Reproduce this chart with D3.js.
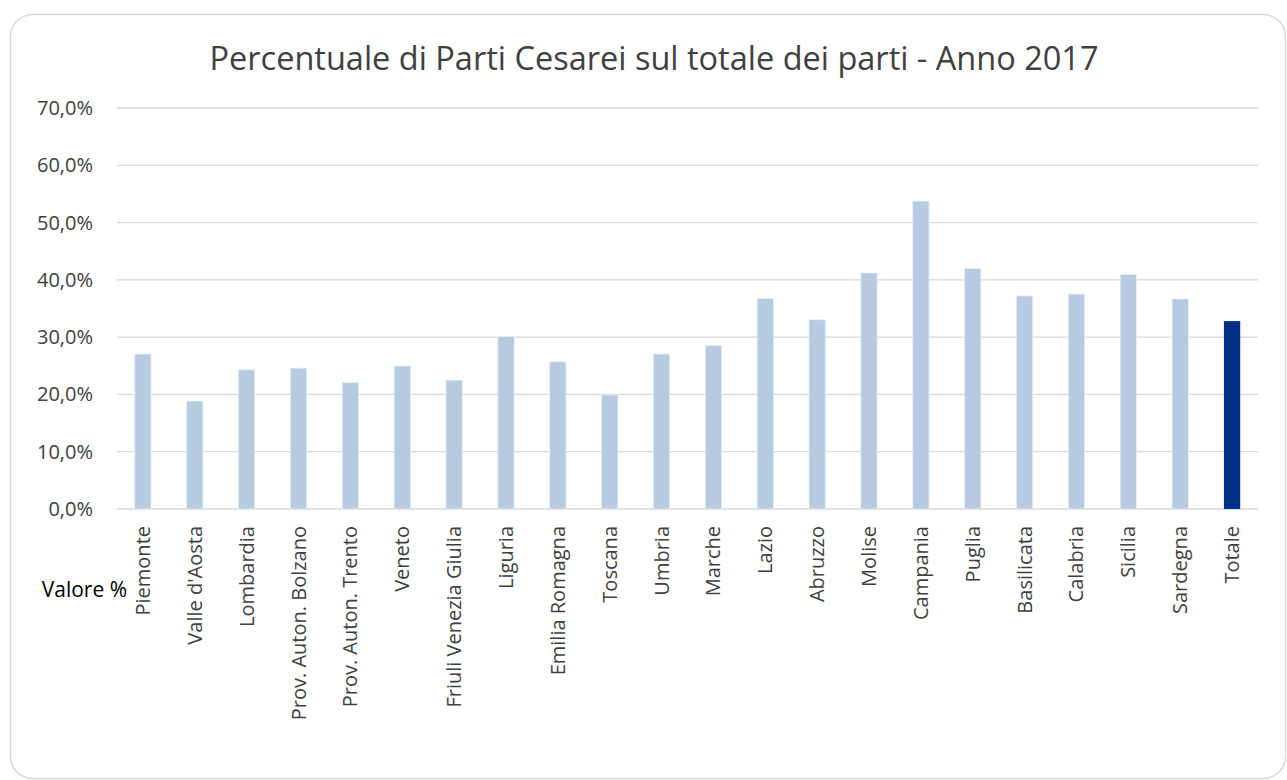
<!DOCTYPE html>
<html><head><meta charset="utf-8">
<script src="https://cdn.jsdelivr.net/npm/d3@7"></script>
<style>body{margin:0;background:#fff}svg{display:block}</style>
</head><body><svg id="c" width="1287" height="780"></svg>
<script>
const categories = ["Piemonte","Valle d'Aosta","Lombardia","Prov. Auton. Bolzano","Prov. Auton. Trento","Veneto","Friuli Venezia Giulia","Liguria","Emilia Romagna","Toscana","Umbria","Marche","Lazio","Abruzzo","Molise","Campania","Puglia","Basilicata","Calabria","Sicilia","Sardegna","Totale"];
const values = [27.05,18.85,24.3,24.6,22.05,24.96,22.5,30.14,25.7,19.9,27.05,28.56,36.77,33.04,41.2,53.75,42.0,37.2,37.5,40.95,36.65,32.8];
const yTicks = [0,10,20,30,40,50,60,70];
const title = "Percentuale di Parti Cesarei sul totale dei parti - Anno 2017";
const seriesName = "Valore %";

const svg = d3.select("#c");
const font = "'Open Sans', sans-serif";
svg.append("rect").attr("x",10.5).attr("y",14.5).attr("width",1275).attr("height",764)
  .attr("rx",22).attr("fill","#fff").attr("stroke","#d9d9d9").attr("stroke-width",1.5);

const x = d3.scaleBand().domain(categories).range([117,1258]).paddingInner(0.686).paddingOuter(0.343);
const y = d3.scaleLinear().domain([0,70]).range([509,108]);

svg.append("g").selectAll("line").data(yTicks).join("line")
  .attr("x1",117).attr("x2",1258).attr("y1",d=>y(d)).attr("y2",d=>y(d))
  .attr("stroke","#d9d9d9").attr("stroke-width",1.3);

const fmt = d => d.toFixed(1).replace(".",",")+"%";
svg.append("g").selectAll("text").data(yTicks).join("text")
  .attr("x",93).attr("y",d=>y(d)).attr("dy","0.35em").attr("text-anchor","end")
  .attr("font-family",font).attr("font-size",20).attr("fill","#404040").text(fmt);

svg.append("g").selectAll("rect").data(values).join("rect")
  .attr("x",(d,i)=>x(categories[i])).attr("width",x.bandwidth())
  .attr("y",d=>y(d)).attr("height",d=>y(0)-y(d))
  .attr("fill",(d,i)=>categories[i]==="Totale"?"#003087":"#b7cbe0")
  .attr("stroke",(d,i)=>categories[i]==="Totale"?"none":"#e6eef6").attr("stroke-width",0.8);

svg.append("text").attr("x",127).attr("y",597).attr("text-anchor","end").attr("font-family",font).attr("font-size",21)
  .attr("fill","#000").text(seriesName);

svg.append("g").selectAll("text").data(categories).join("text")
  .attr("transform",d=>`translate(${x(d)+x.bandwidth()/2},526) rotate(-90)`)
  .attr("dy","0.35em").attr("text-anchor","end")
  .attr("font-family",font).attr("font-size",20).attr("fill","#404040").text(d=>d);

svg.append("text").attr("x",654).attr("y",70).attr("text-anchor","middle")
  .attr("font-family",font).attr("font-size",32.5).attr("fill","#404040").text(title);
</script></body></html>
